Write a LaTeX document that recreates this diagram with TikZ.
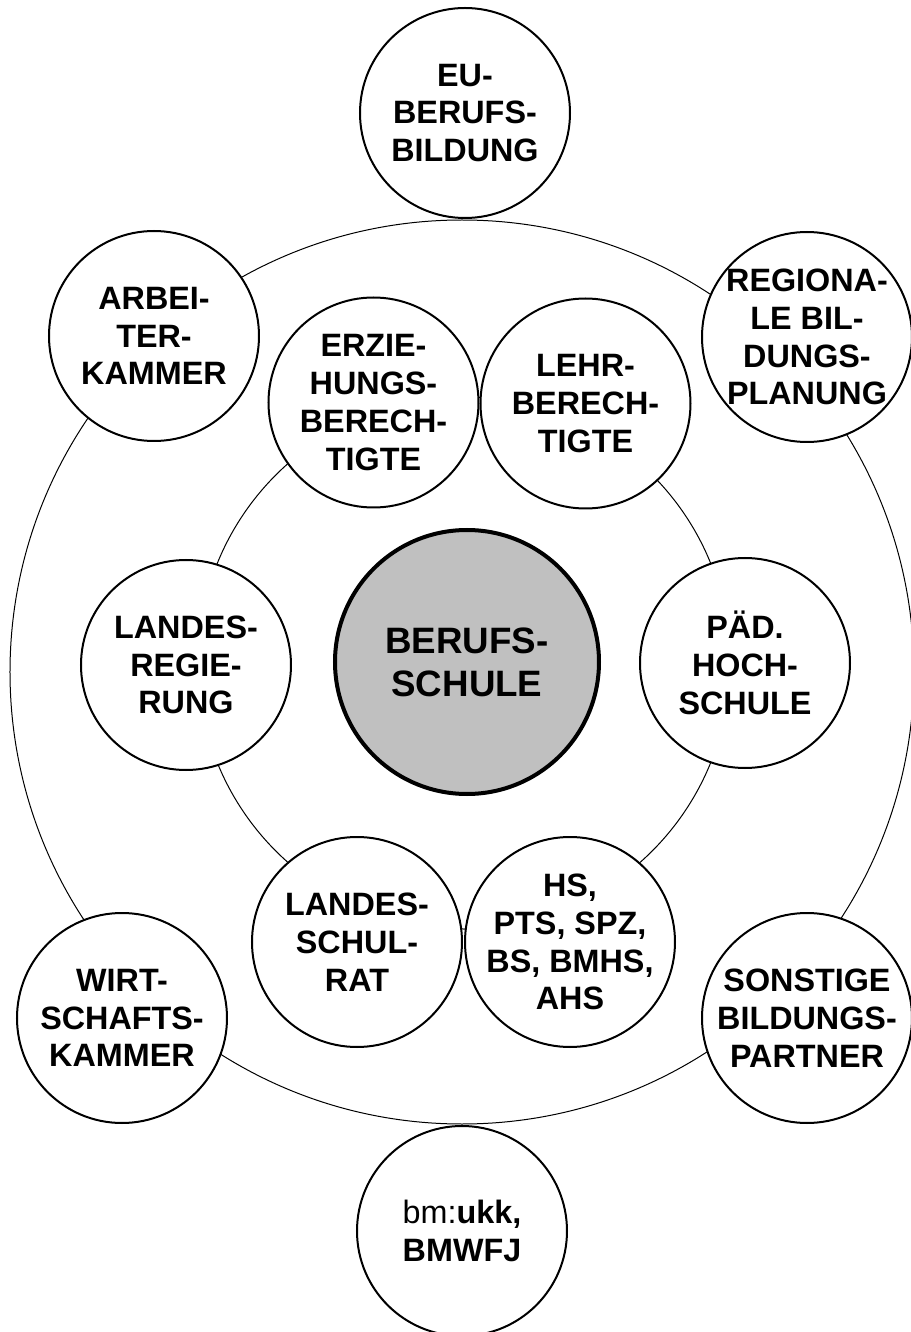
\documentclass[tikz,border=0pt]{standalone}
\usepackage{fontspec}
\setmainfont{Liberation Sans}
\definecolor{CoreGray}{HTML}{C0C0C0}

\begin{document}
\begin{tikzpicture}[
  partner/.style={circle,draw,fill=white,line width=0.04cm,minimum size=4.2cm,inner sep=0pt},
  core/.style={circle,draw,fill=CoreGray,line width=0.08cm,minimum size=5.28cm,inner sep=0pt},
  txt/.style={align=center,font=\fontsize{18.4pt}{21.5pt}\selectfont\bfseries},
  coretxt/.style={align=center,font=\fontsize{20.9pt}{24.6pt}\selectfont\bfseries},
  ring/.style={line width=0.02cm}]
  \useasboundingbox (-9.24,13.44) rectangle (8.96,-13.2);
  \draw[ring] (0,0) circle (9.04);
  \draw[ring] (0.04,0.18) circle (5.32);
  \node[partner,label={[txt]center:{EU-\\BERUFS-\\BILDUNG}}] (eu) at (0.06,11.18) {};
  \node[partner,label={[txt]center:{ARBEI-\\TER-\\KAMMER}}] (ak) at (-6.16,6.72) {};
  \node[partner,label={[txt]center:{REGIONA-\\LE BIL-\\DUNGS-\\PLANUNG}}] (rbp) at (6.90,6.70) {};
  \node[partner,label={[txt]center:{ERZIE-\\HUNGS-\\BERECH-\\TIGTE}}] (eltern) at (-1.77,5.39) {};
  \node[partner,label={[txt]center:{LEHR-\\BERECH-\\TIGTE}}] (lehrer) at (2.47,5.37) {};
  \node[partner,label={[txt]center:{LANDES-\\REGIE-\\RUNG}}] (lreg) at (-5.52,0.14) {};
  \node[core,label={[coretxt]center:{BERUFS-\\SCHULE}}] (bs) at (0.10,0.20) {};
  \node[partner,label={[txt]center:{PÄD.\\HOCH-\\SCHULE}}] (ph) at (5.66,0.18) {};
  \node[partner,label={[txt]center:{LANDES-\\SCHUL-\\RAT}}] (lsr) at (-2.10,-5.40) {};
  \node[partner,label={[txt]center:{HS,\\PTS, SPZ,\\BS, BMHS,\\AHS}}] (schulen) at (2.16,-5.40) {};
  \node[partner,label={[txt]center:{WIRT-\\SCHAFTS-\\KAMMER}}] (wk) at (-6.80,-6.92) {};
  \node[partner,label={[txt]center:{SONSTIGE\\BILDUNGS-\\PARTNER}}] (sbp) at (6.90,-6.92) {};
  \node[partner,label={[txt]center:{{\mdseries bm:}ukk,\\BMWFJ}}] (bm) at (0,-11.18) {};
\end{tikzpicture}
\end{document}
